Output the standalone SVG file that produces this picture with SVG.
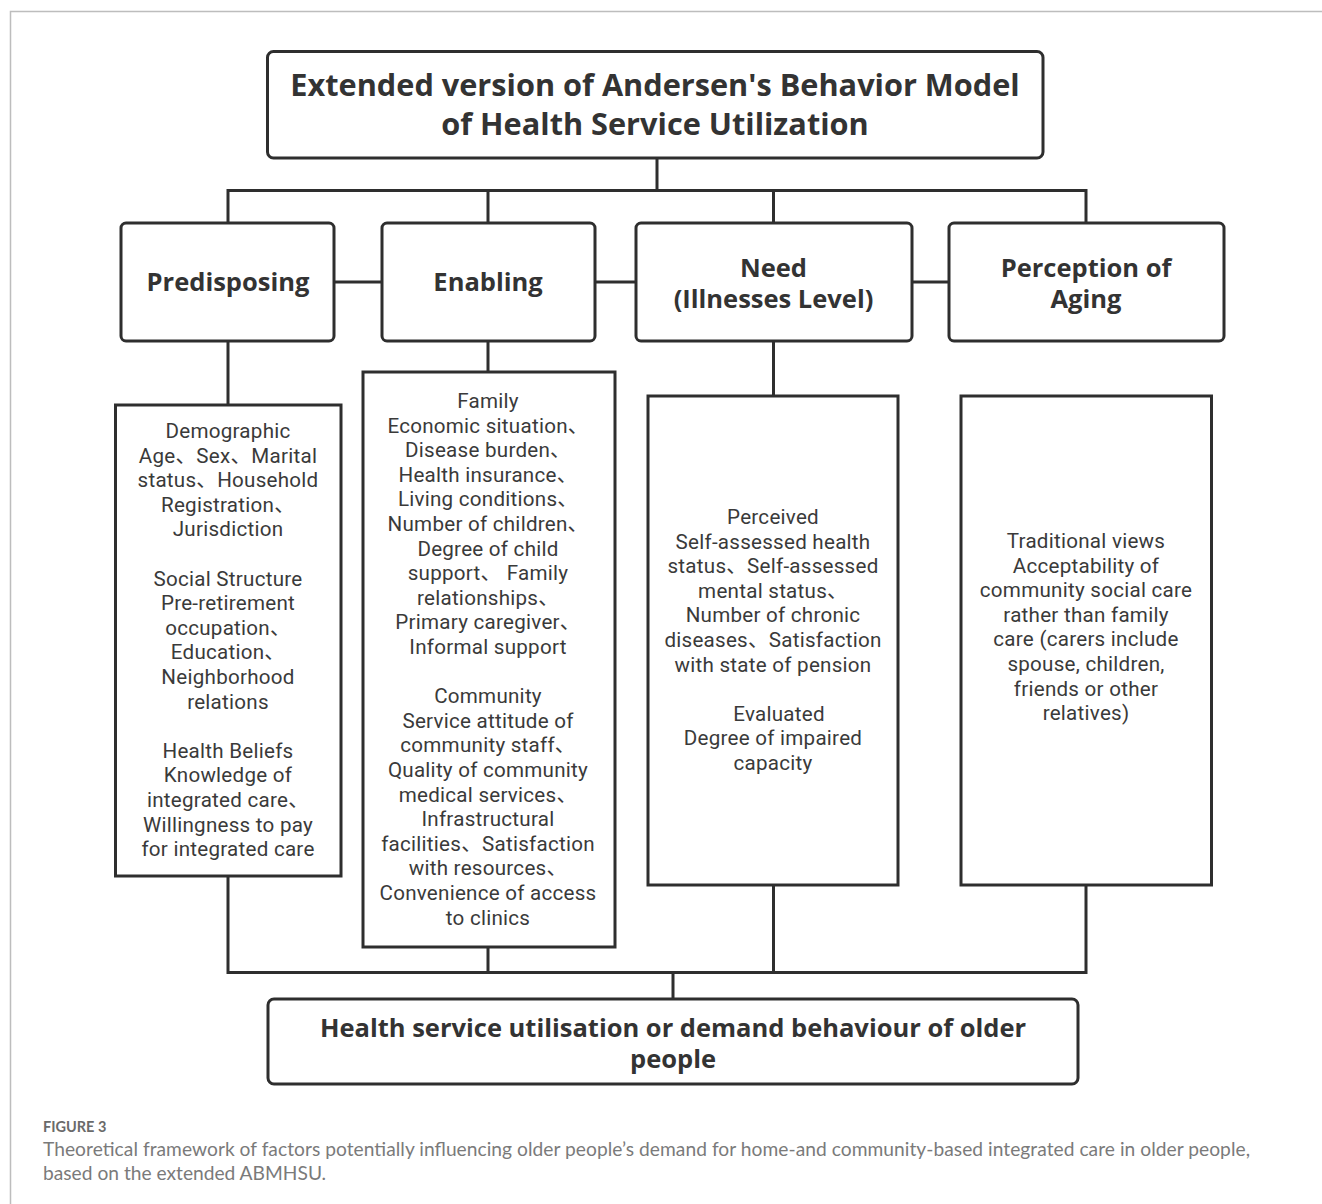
<svg xmlns="http://www.w3.org/2000/svg" width="1322" height="1204" viewBox="0 0 1322 1204">
<style>
.frame{fill:none;stroke:#bdbdbd;stroke-width:1.5}
.box{fill:#fff;stroke:#2e2e2e;stroke-width:3}
.line{fill:none;stroke:#2e2e2e;stroke-width:3}
.title{font-family:"Open Sans","Noto Sans CJK SC",sans-serif;font-weight:700;font-size:30.7px;fill:#333;text-anchor:middle}
.cat{font-family:"Open Sans","Noto Sans CJK SC",sans-serif;font-weight:700;font-size:25.5px;fill:#333;text-anchor:middle}
.det{font-family:Roboto,"Noto Sans CJK SC",sans-serif;font-size:20.6px;letter-spacing:0.25px;fill:#3a3a3a;text-anchor:middle}
.fig{font-family:Lato,"Open Sans",sans-serif;font-weight:700;font-size:14.5px;fill:#6a6a6a}
.cap{font-family:Lato,"Open Sans",sans-serif;font-size:19.2px;fill:#7a7a7a}
</style>
<rect width="1322" height="1204" fill="#fff"/>
<path class="frame" d="M10.5 1204 V11.5 H1322"/>

<g id="connectors">
<path class="line" d="M657 158 V190.5 M228 223 V190.5 H1086 V223 M488 190.5 V223 M773.5 190.5 V223"/>
<path class="line" d="M334 282 H382 M595 282 H636 M912 282 H949"/>
<path class="line" d="M228 341 V405 M488 341 V372 M773.5 341 V396"/>
<path class="line" d="M228 876 V972.5 H1086 V885 M488 947 V972.5 M773.5 885 V972.5 M673 972.5 V999"/>
</g>

<g id="title">
<rect class="box" x="267.5" y="51.5" width="775.5" height="106.5" rx="6"/>
<text class="title"><tspan x="655" y="96.2">Extended version of Andersen's Behavior Model</tspan><tspan x="655" y="134.8">of Health Service Utilization</tspan></text>
</g>

<g id="predisposing">
<rect class="box" x="121" y="223" width="213" height="118" rx="5"/>
<text class="cat" x="228" y="291">Predisposing</text>
</g>
<g id="enabling">
<rect class="box" x="382" y="223" width="213" height="118" rx="5"/>
<text class="cat" x="488" y="291">Enabling</text>
</g>
<g id="need">
<rect class="box" x="636" y="223" width="276" height="118" rx="5"/>
<text class="cat"><tspan x="773.5" y="277">Need</tspan><tspan x="773.5" y="308">(Illnesses Level)</tspan></text>
</g>
<g id="perception">
<rect class="box" x="949" y="223" width="275" height="118" rx="5"/>
<text class="cat"><tspan x="1086" y="277">Perception of</tspan><tspan x="1086" y="308">Aging</tspan></text>
</g>

<g id="predisposing-factors">
<rect class="box" x="115.5" y="405" width="225.5" height="471"/>
<text class="det"><tspan x="228" y="438">Demographic</tspan><tspan x="228" y="462.6">Age、Sex、Marital</tspan><tspan x="228" y="487.2">status、Household</tspan><tspan x="228" y="511.8">Registration、</tspan><tspan x="228" y="536.4">Jurisdiction</tspan><tspan x="228" y="585.6">Social Structure</tspan><tspan x="228" y="610.2">Pre-retirement</tspan><tspan x="228" y="634.8">occupation、</tspan><tspan x="228" y="659.4">Education、</tspan><tspan x="228" y="684">Neighborhood</tspan><tspan x="228" y="708.6">relations</tspan><tspan x="228" y="757.8">Health Beliefs</tspan><tspan x="228" y="782.4">Knowledge of</tspan><tspan x="228" y="807">integrated care、</tspan><tspan x="228" y="831.6">Willingness to pay</tspan><tspan x="228" y="856.2">for integrated care</tspan></text>
</g>

<g id="enabling-factors">
<rect class="box" x="363" y="372" width="252" height="575"/>
<text class="det"><tspan x="488" y="408">Family</tspan><tspan x="488" y="432.6">Economic situation、</tspan><tspan x="488" y="457.2">Disease burden、</tspan><tspan x="488" y="481.8">Health insurance、</tspan><tspan x="488" y="506.4">Living conditions、</tspan><tspan x="488" y="531">Number of children、</tspan><tspan x="488" y="555.6">Degree of child</tspan><tspan x="488" y="580.2">support、 Family</tspan><tspan x="488" y="604.8">relationships、</tspan><tspan x="488" y="629.4">Primary caregiver、</tspan><tspan x="488" y="654">Informal support</tspan><tspan x="488" y="703.2">Community</tspan><tspan x="488" y="727.8">Service attitude of</tspan><tspan x="488" y="752.4">community staff、</tspan><tspan x="488" y="777">Quality of community</tspan><tspan x="488" y="801.6">medical services、</tspan><tspan x="488" y="826.2">Infrastructural</tspan><tspan x="488" y="850.8">facilities、Satisfaction</tspan><tspan x="488" y="875.4">with resources、</tspan><tspan x="488" y="900">Convenience of access</tspan><tspan x="488" y="924.6">to clinics</tspan></text>
</g>

<g id="need-factors">
<rect class="box" x="648" y="396" width="250" height="489"/>
<text class="det"><tspan x="773" y="524">Perceived</tspan><tspan x="773" y="548.6">Self-assessed health</tspan><tspan x="773" y="573.2">status、Self-assessed</tspan><tspan x="773" y="597.8">mental status、</tspan><tspan x="773" y="622.4">Number of chronic</tspan><tspan x="773" y="647">diseases、Satisfaction</tspan><tspan x="773" y="671.6">with state of pension</tspan><tspan x="779" y="720.8">Evaluated</tspan><tspan x="773" y="745.4">Degree of impaired</tspan><tspan x="773" y="770">capacity</tspan></text>
</g>

<g id="perception-factors">
<rect class="box" x="961" y="396" width="250.5" height="489"/>
<text class="det"><tspan x="1086" y="548">Traditional views</tspan><tspan x="1086" y="572.6">Acceptability of</tspan><tspan x="1086" y="597.2">community social care</tspan><tspan x="1086" y="621.8">rather than family</tspan><tspan x="1086" y="646.4">care (carers include</tspan><tspan x="1086" y="671">spouse, children,</tspan><tspan x="1086" y="695.6">friends or other</tspan><tspan x="1086" y="720.2">relatives)</tspan></text>
</g>

<g id="outcome">
<rect class="box" x="268" y="999" width="810" height="85" rx="6"/>
<text class="cat"><tspan x="673" y="1037">Health service utilisation or demand behaviour of older</tspan><tspan x="673" y="1068">people</tspan></text>
</g>

<g id="caption">
<text class="fig" x="43" y="1132">FIGURE 3</text>
<text class="cap"><tspan x="43" y="1156" textLength="1207" lengthAdjust="spacing">Theoretical framework of factors potentially influencing older people’s demand for home-and community-based integrated care in older people,</tspan><tspan x="43" y="1180">based on the extended ABMHSU.</tspan></text>
</g>
</svg>
